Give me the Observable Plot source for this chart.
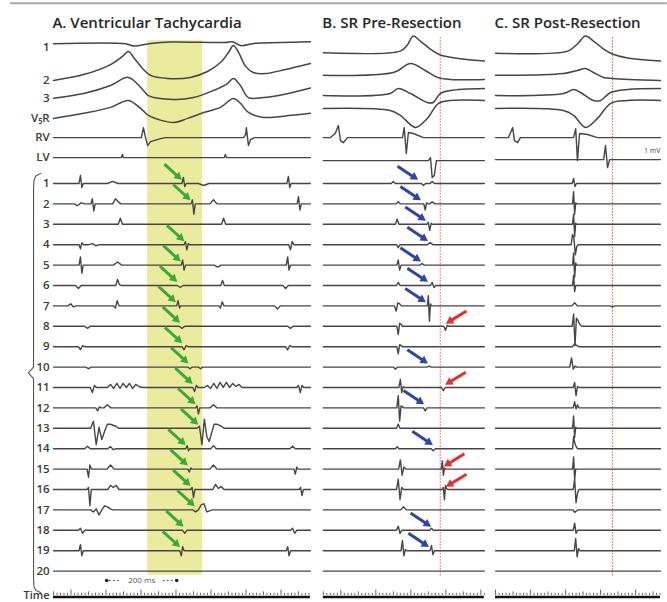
<!DOCTYPE html>
<html><head><meta charset="utf-8">
<script src="https://cdn.jsdelivr.net/npm/d3@7"></script>
<script src="https://cdn.jsdelivr.net/npm/@observablehq/plot@0.6"></script>
<style>body{margin:0;background:#fff}</style>
</head><body><div id="chart"></div>
<script>
// ---------- panels ----------
const panelTitles = ["A. Ventricular Tachycardia", "B. SR Pre-Resection", "C. SR Post-Resection"];
const panelOffsetMs = [0, 771, 1263];
const panelLengthMs = [734, 460, 471];
const tickPhaseMs = [50, 50, 0];

// ---------- rows ----------
const surfaceLabels = ["1", "2", "3", "V\u2085R", "RV", "LV"];
const surfaceSlots = [-5.85, -4.05, -3.18, -2.19, -1.25, -0.27];
const electrodeLabels = ["1","2","3","4","5","6","7","8","9","10","11","12","13","14","15","16","17","18","19","20"];
const electrodeSlots = [1,2,3,4,5,6,7,8,9,10,11,12,13,14,15,16,17,18,19,20];

// ---------- surface leads: [ms, mV] ----------
const surfaceA = [
  [[0,0],[206,0],[229,-0.11],[277,0.01],[334,0.08],[491,0.06],[511,0.1],[534,-0.09],[577,0.03],[649,0.06],[734,0.1]],
  [[0,0],[86,0.29],[163,0.78],[197,1.18],[214,1.42],[231,1.08],[257,0.54],[277,0.25],[326,0.1],[391,0.15],[440,0.44],[477,0.88],[500,1.37],[514,1.72],[529,1.37],[549,0.69],[571,0.39],[606,0.34],[663,0.54],[734,0.83]],
  [[0,0],[86,0.23],[163,0.62],[214,1.02],[257,0.38],[271,0.13],[343,-0.06],[400,0.03],[457,0.38],[497,0.72],[514,0.97],[534,0.62],[557,0.03],[600,0.03],[657,0.18],[734,0.5]],
  [[0,0],[86,0.25],[163,0.54],[214,0.88],[249,0.49],[271,0.15],[343,-0.2],[383,0],[429,0.29],[477,0.54],[514,0.98],[534,0.74],[557,0.29],[600,0.05],[680,0.15],[734,0.25]],
  [[0,0],[251,0],[257,0.49],[263,0],[269,-0.39],[277,-0.2],[306,-0.05],[320,0],[543,0],[549,0.15],[551,0.49],[557,-0.39],[563,-0.1],[574,0],[734,0]],
  [[0,0],[194,0],[197,0.15],[200,0],[488,0],[491,0.15],[494,0],[734,0]]
];
const surfaceB = [
  [[0,-0.44],[220,-0.36],[240,-0.06],[257,0.38],[277,0.13],[314,-0.36],[334,-0.55],[377,-0.7],[460,-0.85]],
  [[0,0.25],[200,0.39],[249,0.83],[291,0.49],[326,0.15],[363,0.05],[460,0.05]],
  [[0,0.13],[191,0.23],[214,0.48],[249,0.23],[297,-0.21],[314,-0.21],[334,0.23],[363,0.38],[460,0.48]],
  [[0,0.49],[191,0.39],[220,0.15],[263,-0.44],[297,0],[329,0.74],[363,0.88],[460,0.88]],
  [[0,0],[20,0],[34,0.2],[43,0.59],[49,-0.15],[57,-0.25],[69,0],[226,0],[231,0.49],[237,-0.78],[243,0.25],[257,0.2],[286,0],[460,0]],
  [[0,-0.15],[300,-0.15],[306,0],[311,-0.98],[317,-0.88],[323,-0.15],[460,-0.15]]
];
const surfaceC = [
  [[0,-0.46],[206,-0.36],[234,-0.01],[257,0.38],[280,0.13],[309,-0.26],[334,-0.5],[377,-0.7],[471,-0.85]],
  [[0,0.25],[194,0.34],[234,0.49],[257,0.59],[280,0.39],[309,0.15],[334,0.1],[471,0]],
  [[0,0.13],[194,0.23],[223,0.43],[243,0.28],[280,-0.11],[300,-0.11],[329,0.28],[377,0.43],[471,0.48]],
  [[0,0.49],[194,0.39],[223,0.15],[257,-0.44],[291,0],[329,0.74],[377,0.88],[471,0.88]],
  [[0,0],[37,0],[49,0.49],[54,-0.15],[63,-0.25],[71,0],[223,0],[229,0.44],[234,-1.13],[240,0.2],[263,0.15],[291,0],[471,0]],
  [[0,-0.1],[309,-0.1],[314,0.59],[320,-0.49],[326,-0.1],[471,-0.1]]
];

// ---------- electrograms: [ms, step ms, deflection mV ...] ----------
const egmA = [
  [[77,4,0.4,-0.2],[169,15,0.1],[371,4,0.3,-0.15],[429,15,-0.1],[671,4,0.35,-0.2]],
  [[69,10,-0.08,0.05],[111,4,0.25,-0.35],[177,8,0.25,0.1],[397,4,0.2,-0.5],[457,10,0.2],[700,4,0.35,-0.3]],
  [[191,6,0.3],[486,6,0.3]],
  [[77,4,-0.2,0.1],[111,10,0.05,-0.05],[377,4,0.15,-0.25,0.05],[677,5,-0.25,0.15]],
  [[77,4,0.4,-0.4],[183,12,0.15],[369,4,0.25,-0.25],[469,10,-0.1],[669,4,0.4,-0.25]],
  [[71,8,-0.15],[183,5,0.3,0.05],[362,8,-0.1],[483,5,0.25],[663,8,-0.15]],
  [[49,8,0.1,-0.05],[177,5,-0.1,0.25],[356,4,0.25,-0.1],[477,5,-0.1,0.2],[640,8,-0.15]],
  [[97,8,-0.1],[367,8,-0.1],[677,8,-0.1]],
  [[77,6,-0.15,0.05],[373,6,-0.15,0.05],[669,6,-0.15,0.05]],
  [[100,8,-0.08],[390,6,-0.08],[420,6,-0.08]],
  [[111,6,-0.25,0.1],[163,9,0.15,-0.05,0.2,-0.05,0.2,0,0.2,-0.05,0.15,0.05],[403,5,-0.2,0.1],[440,9,0.1,-0.05,0.2,-0.05,0.25,0,0.25,0,0.2,0.05,0.15],[700,5,0.1,-0.25,0.1]],
  [[126,5,-0.15,0.05],[154,10,0.15],[410,4,0.1,-0.3],[457,10,0.15]],
  [[114,8,0.35,-0.8,0.05,-0.55,-0.15,0.2,0.2,0.15,0.1],[417,7,0.1,-0.8,0.45,-0.4,-0.65,-0.2,0.2,0.2,0.15,0.1]],
  [[97,8,0.12],[163,8,0.1,-0.05],[382,4,0.15,-0.1],[457,8,0.15],[683,8,0.12]],
  [[100,4,-0.4,0.2],[163,10,0.2],[388,4,-0.15,0.05],[457,10,0.2],[691,4,-0.25,0.1]],
  [[100,4,0.1,-0.8],[163,8,0.2,0.1,0.2],[396,4,0.1,-0.4],[463,8,0.25,0.05,0.15],[706,4,0.1,-0.3]],
  [[114,8,-0.1,0.05,-0.25,0,0.2,0.15,0.05],[406,8,-0.1,0,0.25,0.3,-0.1,-0.05]],
  [[77,6,0.1,-0.15],[375,6,-0.15],[683,6,0.1,-0.15]],
  [[77,4,0.3,-0.25],[365,4,-0.25,0.2],[669,4,0.2,-0.25]],
  []
];
const egmB = [
  [[200,6,0.1],[286,6,-0.1],[311,6,0.1]],
  [[214,6,0.1],[291,4,-0.3,0.05],[311,8,0.1]],
  [[211,5,0.25,0],[300,4,0.1,-0.3,0.05]],
  [[214,5,-0.15],[305,8,0.1]],
  [[214,4,0.25,-0.25],[282,6,0.08]],
  [[214,5,0.15],[311,5,0.15,-0.1]],
  [[208,5,-0.25,0.15,0.1],[300,3,0.5,-0.75,0.1]],
  [[214,4,-0.4,0.15,0.1],[349,5,-0.2,0.05]],
  [[214,4,-0.35,0.1,0.05]],
  [[206,6,-0.1],[302,6,0.05]],
  [[220,4,0.4,-0.25,0.05],[343,5,-0.15]],
  [[214,4,0.6,-0.65,0.1,0.05],[291,5,-0.15]],
  [[214,5,0.2]],
  [[211,5,0.1],[314,6,-0.1]],
  [[220,5,0.45,-0.3,0.1],[340,3,0.4,-0.3,0.05]],
  [[214,5,0.5,-0.5,0.1],[343,3,0.1,-0.5,0.2,0.05]],
  [[229,8,0.15]],
  [[214,5,0.2,-0.15],[309,5,0.1]],
  [[226,4,0.5,-0.25,0.05],[309,4,0.25,-0.2]],
  []
];
const egmC = [
  [[223,4,0.25,-0.15]],
  [[223,3,0.6,-0.5,0.05]],
  [[223,3,0.5,-0.6,0.05]],
  [[220,4,0.5,0.3,-0.5,-0.1]],
  [[223,3,0.6,-0.6,0.1]],
  [[223,3,0.5,-0.3]],
  [[226,8,0.15],[334,8,-0.05]],
  [[223,4,0.6,-0.95,0.4,0.3,0.15,0.05]],
  [[226,6,0.15,0.05]],
  [[217,5,0.45,-0.1,0.05]],
  [[226,4,0.25,-0.4,0.05]],
  [[226,4,0.3,-0.05,0.15]],
  [[223,3,0.6,-0.45,0.05]],
  [[223,3,0.6,0.3,0.15,0.05]],
  [[223,3,0.6,-0.5]],
  [[226,4,0.5,-0.65,-0.2]],
  [[226,5,-0.12,-0.05]],
  [[226,4,0.35,-0.15]],
  [[229,4,0.6,-0.3,0.1]],
  []
];

// ---------- annotations ----------
const greenArrowRows = [1,2,4,5,6,7,8,9,10,11,12,13,14,15,16,17,18,19];
const greenArrowMs   = [365,390,372,362,352,348,360,366,384,396,404,412,376,382,390,402,370,360];
const blueArrowRows  = [1,2,3,4,5,6,7,10,12,14,18,19];
const blueArrowMs    = [269,277,291,297,277,297,291,297,286,311,306,300];
const redArrowRows   = [8,11,15,16];
const redArrowMs     = [352,350,346,352];
const highlightMs = [269, 426];      // yellow band, panel A
const markerMs = 334;                // red dotted line, panels B and C
const scaleBarMs = [152, 352];       // 200 ms bar, panel A

// ---------- build ----------
const xDomain = [-151.43, 1754.29], yDomain = [-7.97, 21.54], W = 667, H = 602;
const pxPerMs = W / (xDomain[1] - xDomain[0]);
const pxPerRow = H / (yDomain[1] - yDomain[0]);
const panelSurfaces = [surfaceA, surfaceB, surfaceC];
const panelEgms = [egmA, egmB, egmC];
const X = (p, t) => panelOffsetMs[p] + t;

function expand(entries, len) {
  const pts = [[0, 0]];
  for (const [t, step, ...amps] of entries) {
    pts.push([t - step, 0]);
    amps.forEach((a, i) => pts.push([t + i * step, a]));
    pts.push([t + amps.length * step, 0]);
  }
  pts.push([len, 0]);
  return pts.sort((a, b) => a[0] - b[0]);
}

const smoothPts = [], sharpPts = [];
panelSurfaces.forEach((surf, p) => surf.forEach((pts, i) => {
  const target = i < 4 ? smoothPts : sharpPts;
  pts.forEach(([t, a]) => target.push({k: `s${p}-${i}`, x: X(p, t), y: surfaceSlots[i] - a}));
}));
panelEgms.forEach((rows, p) => rows.forEach((entries, r) => {
  expand(entries, panelLengthMs[p]).forEach(([t, a]) =>
    sharpPts.push({k: `e${p}-${r}`, x: X(p, t), y: electrodeSlots[r] - a}));
}));

// arrows: shaft + filled triangular head
const arrows = [];
function addArrow(c, hx, hy, dxMs, dyRow) {
  const tx = hx + dxMs, ty = hy + dyRow;
  const vx = (hx - tx) * pxPerMs, vy = (hy - ty) * pxPerRow;
  const L = Math.hypot(vx, vy), ux = vx / L, uy = vy / L;
  arrows.push({
    c, x1: tx, y1: ty,
    x2: hx - ux * 5 / pxPerMs, y2: hy - uy * 5 / pxPerRow,
    hx: hx - ux * 4.2 / pxPerMs, hy: hy - uy * 4.2 / pxPerRow,
    rot: Math.atan2(vy, vx) * 180 / Math.PI + 90
  });
}
greenArrowRows.forEach((r, i) => addArrow("#3aa83a", X(0, greenArrowMs[i]), r - 0.2, -48, -0.75));
blueArrowRows.forEach((r, i) => addArrow("#2e45a6", X(1, blueArrowMs[i]), r - 0.2, -57, -0.65));
redArrowRows.forEach((r, i) => addArrow("#e3312b", X(1, redArrowMs[i]), r - 0.15, 57, -0.6));

const ticks = [];
panelLengthMs.forEach((len, p) => {
  for (let t = 0; t <= len; t += 10) {
    const major = ((t - tickPhaseMs[p]) % 100 + 100) % 100 === 0;
    const mid = ((t - tickPhaseMs[p]) % 50 + 50) % 50 === 0;
    ticks.push({x: X(p, t), y1: 21.2, y2: major ? 20.93 : mid ? 21.02 : 21.09});
  }
});

const bracket = [[-37,0.51],[-50,0.62],[-56,0.85],[-57,1.3],[-57,10.0],[-72,10.28],[-57,10.56],[-57,20.3],[-56,20.75],[-50,20.95],[-37,21.05]];

const font = {fontFamily: "'Open Sans', sans-serif"};
const labelRows = surfaceLabels.map((l, i) => ({l, y: surfaceSlots[i] + (i === 0 ? 0.17 : 0)}))
  .concat(electrodeLabels.map((l, i) => ({l, y: electrodeSlots[i]})));

const chart = Plot.plot({
  width: W, height: H,
  marginTop: 0, marginBottom: 0, marginLeft: 0, marginRight: 0,
  x: {domain: xDomain, range: [0, W], axis: null},
  y: {domain: yDomain, range: [0, H], axis: null},
  style: {background: "#fff", overflow: "visible"},
  marks: [
    Plot.ruleY([-7.83], {x1: -123, x2: 1754, stroke: "#a8a8a8", strokeWidth: 2}),
    Plot.rect([highlightMs], {x1: d => X(0, d[0]), x2: d => X(0, d[1]), y1: -6.0, y2: 20.2, fill: "#ebeb9e"}),
    Plot.ruleX([1, 2], {x: p => X(p, markerMs), y1: -6.15, y2: 20.3, stroke: "#e8595a", strokeWidth: 1, strokeDasharray: "1.5,1.5"}),
    Plot.line(smoothPts, {x: "x", y: "y", z: "k", curve: "catmull-rom", stroke: "#454545", strokeWidth: 1.5}),
    Plot.line(sharpPts, {x: "x", y: "y", z: "k", curve: "linear", stroke: "#454545", strokeWidth: 1.4}),
    Plot.link(arrows, {x1: "x1", y1: "y1", x2: "x2", y2: "y2", stroke: "c", strokeWidth: 3}),
    Plot.dot(arrows, {x: "hx", y: "hy", symbol: "triangle", r: 3.2, rotate: "rot", fill: "c", stroke: "none"}),
    Plot.text(panelTitles, {x: (d, i) => panelOffsetMs[i] - 3, y: -6.84, text: d => d, textAnchor: "start", fontSize: 15, fontWeight: 600, fill: "#262626", ...font}),
    Plot.text(labelRows, {x: -11, y: "y", text: "l", textAnchor: "end", fontSize: 11.5, fontWeight: 600, fill: "#3a3a3a", ...font}),
    Plot.line(bracket, {x: d => d[0], y: d => d[1], stroke: "#555", strokeWidth: 1.1}),
    Plot.ruleY([0, 1, 2], {y: 21.27, x1: p => X(p, 0), x2: p => X(p, panelLengthMs[p]), stroke: "#111", strokeWidth: 2.6}),
    Plot.ruleX(ticks, {x: "x", y1: "y1", y2: "y2", stroke: "#444", strokeWidth: 0.8}),
    Plot.text(["Time"], {x: -11, y: 21.2, text: d => d, textAnchor: "end", fontSize: 11, fontWeight: 600, fill: "#3a3a3a", ...font}),
    Plot.dot(scaleBarMs, {x: d => X(0, d), y: 20.46, r: 1.8, fill: "#222"}),
    Plot.link([[scaleBarMs[0] + 6, scaleBarMs[0] + 40], [scaleBarMs[1] - 40, scaleBarMs[1] - 6]], {x1: d => X(0, d[0]), x2: d => X(0, d[1]), y1: 20.46, y2: 20.46, stroke: "#555", strokeWidth: 1, strokeDasharray: "2,2"}),
    Plot.text(["200 ms"], {x: X(0, (scaleBarMs[0] + scaleBarMs[1]) / 2), y: 20.46, text: d => d, fontSize: 8, fill: "#555", ...font}),
    Plot.text(["1 mV"], {x: X(2, panelLengthMs[2]), y: -0.62, text: d => d, textAnchor: "end", fontSize: 7, fill: "#444", ...font})
  ]
});
document.getElementById("chart").appendChild(chart);
</script></body></html>
